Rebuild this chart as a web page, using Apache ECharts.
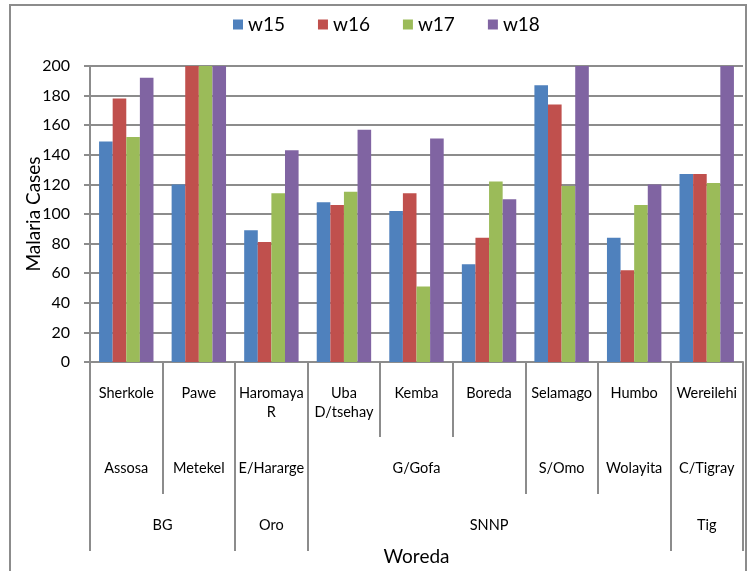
<!DOCTYPE html>
<html>
<head>
<meta charset="utf-8">
<script src="https://cdn.jsdelivr.net/npm/echarts@6/dist/echarts.min.js"></script>
<style>
  html, body { margin: 0; padding: 0; background: #fff; }
  #frame { position: absolute; left: 9px; top: 4px; width: 734px; height: 600px; border: 2px solid #8c8c8c; }
  #chart { position: absolute; left: 0; top: 0; width: 751px; height: 571px; }
</style>
</head>
<body>
<div id="frame"></div>
<div id="chart"></div>
<script>
const woredas = ['Sherkole', 'Pawe', 'Haromaya R', 'Uba D/tsehay', 'Kemba', 'Boreda', 'Selamago', 'Humbo', 'Wereilehi'];
const zones = ['Assosa', 'Metekel', 'E/Hararge', 'G/Gofa', 'G/Gofa', 'G/Gofa', 'S/Omo', 'Wolayita', 'C/Tigray'];
const regions = ['BG', 'BG', 'Oro', 'SNNP', 'SNNP', 'SNNP', 'SNNP', 'SNNP', 'Tig'];
const weeks = ['w15', 'w16', 'w17', 'w18'];
const w15 = [149, 120, 89, 108, 102, 66, 187, 84, 127];
const w16 = [178, 200, 81, 106, 114, 84, 174, 62, 127];
const w17 = [152, 200, 114, 115, 51, 122, 119, 106, 121];
const w18 = [192, 200, 143, 157, 151, 110, 200, 120, 200];
const colors = ['#4F81BD', '#C0504D', '#9BBB59', '#8064A2'];

function spans(list) {
  const out = [];
  list.forEach((n, i) => {
    const last = out[out.length - 1];
    if (last && last.name === n) last.end = i + 1;
    else out.push({ name: n, start: i, end: i + 1 });
  });
  return out;
}
const zoneSpans = spans(zones);
const regionSpans = spans(regions);
function bounds(sp) { return [0].concat(sp.map(s => s.end)); }
function centers(sp) { return sp.map(s => (s.start + s.end) / 2); }
function labelAt(sp, v) {
  const s = sp.find(s => Math.abs((s.start + s.end) / 2 - v) < 1e-6);
  return s ? s.name : '';
}

const FONT = 'Lato, "Open Sans", sans-serif';
const GRAY = '#8c8c8c';
const TXT = '#000';

const chart = echarts.init(document.getElementById('chart'), null, { renderer: 'canvas' });
const seriesData = [w15, w16, w17, w18];

const option = {
  animation: false,
  textStyle: { fontFamily: FONT },
  color: colors,
  legend: {
    data: weeks,
    top: 10,
    left: 228,
    icon: 'rect',
    itemWidth: 10,
    itemHeight: 10,
    itemGap: 33,
    textStyle: { fontFamily: FONT, fontSize: 19, color: TXT }
  },
  grid: { left: 90, right: 8, top: 66, bottom: 207, containLabel: false },
  yAxis: {
    type: 'value',
    min: 0, max: 200, interval: 20,
    name: 'Malaria Cases',
    nameLocation: 'middle',
    nameGap: 47,
    nameMoveOverlap: false,
    nameTextStyle: { fontFamily: FONT, fontSize: 19, color: TXT },
    axisLine: { show: true, lineStyle: { color: GRAY, width: 2 } },
    axisTick: { show: true, length: 6, lineStyle: { color: GRAY, width: 2 } },
    axisLabel: { fontFamily: FONT, fontSize: 16, color: TXT, margin: 20 },
    splitLine: { show: true, lineStyle: { color: GRAY, width: 2 } }
  },
  xAxis: [
    {
      type: 'category',
      data: woredas,
      position: 'bottom',
      axisLine: { show: true, lineStyle: { color: GRAY, width: 2 } },
      axisTick: { show: true, length: 75, interval: 0, lineStyle: { color: GRAY, width: 2 } },
      axisLabel: {
        interval: 0, fontFamily: FONT, fontSize: 14.5, color: TXT, margin: 22,
        lineHeight: 19, verticalAlign: 'top',
        formatter: v => v.replace(' ', '\n')
      },
      splitLine: { show: false }
    },
    {
      type: 'value',
      min: 0, max: woredas.length,
      position: 'bottom',
      offset: 75,
      axisLine: { show: false },
      axisTick: { show: true, length: 57, customValues: bounds(zoneSpans), lineStyle: { color: GRAY, width: 2 } },
      axisLabel: {
        customValues: centers(zoneSpans), fontFamily: FONT, fontSize: 14.5, color: TXT,
        margin: 22, lineHeight: 19, verticalAlign: 'top',
        formatter: v => labelAt(zoneSpans, v)
      },
      splitLine: { show: false }
    },
    {
      type: 'value',
      min: 0, max: woredas.length,
      position: 'bottom',
      offset: 132,
      name: 'Woreda',
      nameLocation: 'middle',
      nameGap: 53,
      nameMoveOverlap: false,
      nameTextStyle: { fontFamily: FONT, fontSize: 19, color: TXT },
      axisLine: { show: false },
      axisTick: { show: true, length: 57, customValues: bounds(regionSpans), lineStyle: { color: GRAY, width: 2 } },
      axisLabel: {
        customValues: centers(regionSpans), fontFamily: FONT, fontSize: 14.5, color: TXT,
        margin: 22, lineHeight: 19, verticalAlign: 'top',
        formatter: v => labelAt(regionSpans, v)
      },
      splitLine: { show: false }
    }
  ],
  series: weeks.map((w, i) => ({
    name: w,
    type: 'bar',
    xAxisIndex: 0,
    data: seriesData[i],
    barGap: '0%',
    barCategoryGap: '25%',
    itemStyle: { color: colors[i] }
  }))
};
chart.setOption(option);
</script>
</body>
</html>
